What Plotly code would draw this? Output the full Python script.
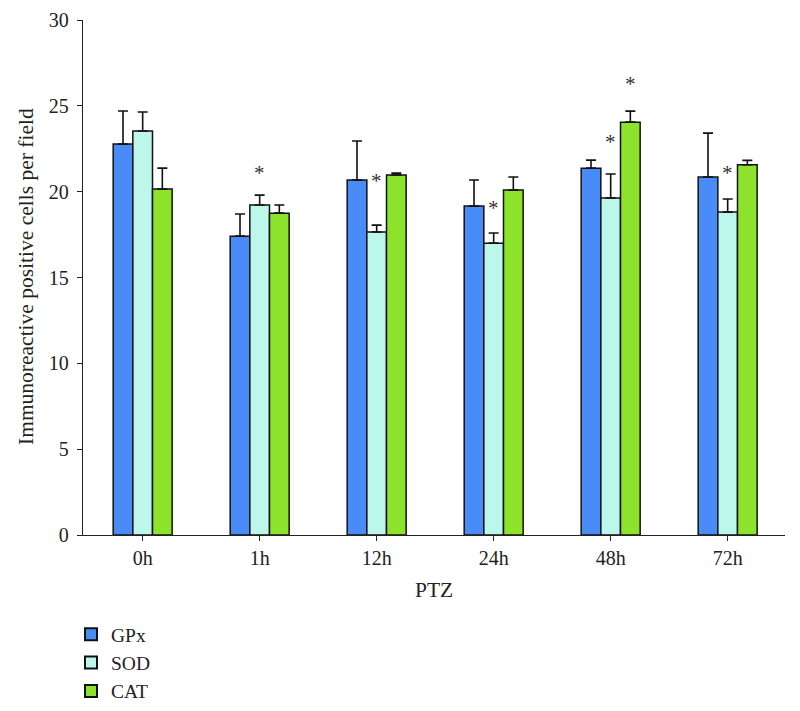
import plotly.graph_objects as go

categories = ["0h", "1h", "12h", "24h", "48h", "72h"]
gpx = [22.77, 17.41, 20.68, 19.16, 21.37, 20.85]
gpx_err = [1.93, 1.29, 2.27, 1.52, 0.47, 2.56]
sod = [23.53, 19.22, 17.65, 17.0, 19.63, 18.81]
sod_err = [1.11, 0.58, 0.40, 0.59, 1.40, 0.76]
cat = [20.15, 18.75, 20.97, 20.09, 24.05, 21.57]
cat_err = [1.22, 0.47, 0.11, 0.76, 0.64, 0.25]

# significance markers: (category, series, y position)
star_cats = ["1h", "12h", "24h", "48h", "48h", "72h"]
star_series = ["SOD", "SOD", "SOD", "SOD", "CAT", "SOD"]
star_y = [21.26, 20.8, 19.2, 23.06, 26.44, 21.26]

colors = {"GPx": "#4a8cf7", "SOD": "#bdf6ea", "CAT": "#8de22c"}
font_family = "Liberation Serif, Times New Roman, serif"

W, H = 792, 703
ML, MR, MT, MB = 75, 15, 12, 176

fig = go.Figure()
for name, vals, errs in [("GPx", gpx, gpx_err), ("SOD", sod, sod_err), ("CAT", cat, cat_err)]:
    fig.add_trace(go.Bar(
        name=name, x=categories, y=vals,
        marker=dict(color=colors[name], line=dict(color="#111111", width=1.5)),
        error_y=dict(type="data", array=errs, arrayminus=[0] * len(errs), symmetric=False,
                     color="#111111", thickness=1.6, width=5),
    ))

offsets = {"GPx": -20, "SOD": 0, "CAT": 20}
for c, s, yv in zip(star_cats, star_series, star_y):
    fig.add_annotation(x=c, y=yv, text="*", showarrow=False, xshift=offsets[s], yshift=-3,
                       font=dict(size=21, family=font_family, color="#333333"),
                       xanchor="center", yanchor="middle")

# axis titles
fig.add_annotation(text="Immunoreactive positive cells per field", textangle=-90,
                   xref="paper", yref="paper", x=-(ML - 18) / (W - ML - MR),
                   y=1 - (269 - MT) / (H - MT - MB),
                   xanchor="center", yanchor="middle", showarrow=False,
                   font=dict(size=21.5, family=font_family, color="#222222"))
fig.add_annotation(text="PTZ", xref="paper", yref="paper", x=0.5,
                   y=-(582 - (H - MB)) / (H - MT - MB),
                   xanchor="center", yanchor="middle", showarrow=False,
                   font=dict(size=21.5, family=font_family, color="#222222"))

fig.update_layout(
    width=W, height=H,
    barmode="group", bargap=0.496, bargroupgap=0,
    plot_bgcolor="white", paper_bgcolor="white",
    margin=dict(l=ML, r=MR, t=MT, b=MB, autoexpand=False),
    font=dict(family=font_family, size=20, color="#222222"),
    xaxis=dict(range=[-0.51, 5.49], showline=True, linecolor="#222222", linewidth=1.3,
               ticks="outside", ticklen=5, tickcolor="#222222"),
    yaxis=dict(range=[0, 30], dtick=5, showline=True, linecolor="#222222", linewidth=1.3,
               ticks="outside", ticklen=5, tickcolor="#222222", showgrid=False, zeroline=False,
               ticklabelstandoff=4),
    legend=dict(orientation="v", x=63 / W, y=1 - 607 / H, xref="container", yref="container",
                xanchor="left", yanchor="top", font=dict(size=19.5),
                itemsizing="constant"),
    showlegend=True,
)

fig.write_html("out.html")
